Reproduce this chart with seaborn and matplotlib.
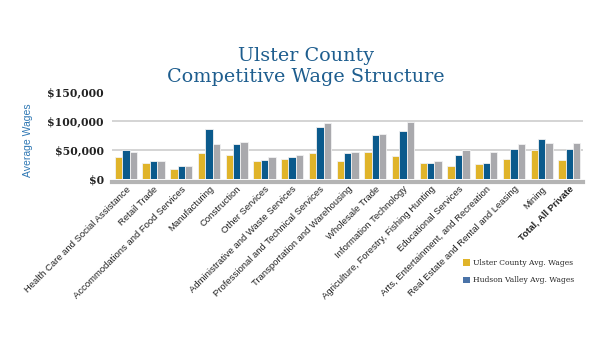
import pandas as pd
import seaborn as sns
import matplotlib.pyplot as plt
from matplotlib.patches import Patch

sns.set_style('white')

industries = ['Health Care and Social Assistance', 'Retail Trade',
              'Accommodations and Food Services', 'Manufacturing',
              'Construction', 'Other Services',
              'Administrative and Waste Services',
              'Professional and Technical Services',
              'Transportation and Warehousing', 'Wholesale Trade',
              'Information Technology',
              'Agriculture, Forestry, Fishing Hunting',
              'Educational Services', 'Arts, Entertainment, and Recreation',
              'Real Estate and Rental and Leasing', 'Mining',
              'Total, All Private']
ulster = [37000, 27000, 17000, 45000, 42000, 30000, 35000, 45000,
          30000, 47000, 39000, 28000, 23000, 25000, 35000, 50000, 32000]
hudson = [49000, 30000, 23000, 86000, 60000, 32000, 38000, 90000,
          44000, 75000, 82000, 28000, 42000, 28000, 52000, 68000, 52000]
state = [46000, 30000, 23000, 60000, 63000, 37000, 42000, 96000,
         46000, 77000, 98000, 30000, 50000, 46000, 60000, 62000, 62000]
series = ['Ulster County Avg. Wages', 'Hudson Valley Avg. Wages',
          'New York State Avg. Wages']
y_ticks = [0, 50000, 100000, 150000]
y_labels = ['$0', '$50,000', '$100,000', '$150,000']

GOLD = '#e0b42a'
BLUE = '#0b5a8c'
GRAY = '#a9a9ad'
TITLE_BLUE = '#1d5d8e'


def build_data():
    frames = []
    for name, vals in zip(series, [ulster, hudson, state]):
        frames.append(pd.DataFrame({'Industry': industries,
                                    'Wage': vals, 'Series': name}))
    return pd.concat(frames)


def main():
    data = build_data()
    fig = plt.figure(figsize=(6.12, 3.6), dpi=100)
    ax = fig.add_axes([0.183, 0.503, 0.770, 0.242])

    sns.barplot(data=data, x='Industry', y='Wage', hue='Series',
                hue_order=series, palette=[GOLD, BLUE, GRAY],
                saturation=1, width=0.8, edgecolor='#f2f2f2',
                linewidth=0.6, legend=False, ax=ax, zorder=3)

    ax.set_ylim(0, 150000)
    ax.set_xlim(-0.5, len(industries) - 0.5)
    for v in [50000, 100000]:
        ax.axhline(v, color='#d4d4d4', lw=1.4, zorder=1)
    for s in ['top', 'right', 'left']:
        ax.spines[s].set_visible(False)
    ax.spines['bottom'].set_color('#b4b4b4')
    ax.spines['bottom'].set_linewidth(3)
    ax.spines['bottom'].set_position(('outward', 2))

    ax.set_yticks(y_ticks)
    ax.set_yticklabels(y_labels, family='DejaVu Serif', fontsize=7.8,
                       fontweight='semibold', color='#222222')
    ax.tick_params(axis='y', length=0, pad=6)
    ax.tick_params(axis='x', length=0, pad=2)
    ax.set_xticks(range(len(industries)))
    ax.set_xticklabels(industries, rotation=45, ha='right',
                       rotation_mode='anchor', family='Liberation Sans',
                       fontsize=6.8, color='#222222')
    ax.get_xticklabels()[-1].set_fontweight('bold')
    ax.set_xlabel('')
    ax.set_ylabel('')
    fig.text(0.046, 0.61, 'Average Wages', rotation=90, ha='center',
             va='center', family='Liberation Sans', fontsize=7.5,
             color='#2f78b4')

    fig.text(0.5, 0.815, 'Ulster County\nCompetitive Wage Structure',
             ha='center', va='center', family='DejaVu Serif', fontsize=13.8,
             color=TITLE_BLUE, linespacing=1.2)

    handles = [Patch(facecolor=GOLD, edgecolor='none'),
               Patch(facecolor='#4a73a8', edgecolor='none')]
    fig.legend(handles, series[:2], loc='center left',
               bbox_to_anchor=(0.745, 0.245), frameon=False,
               prop={'family': 'DejaVu Serif', 'size': 5.5},
               handlelength=0.9, handleheight=0.9, handletextpad=0.4,
               labelspacing=1.2)

    fig.savefig('out.png', dpi=100)


if __name__ == '__main__':
    main()
